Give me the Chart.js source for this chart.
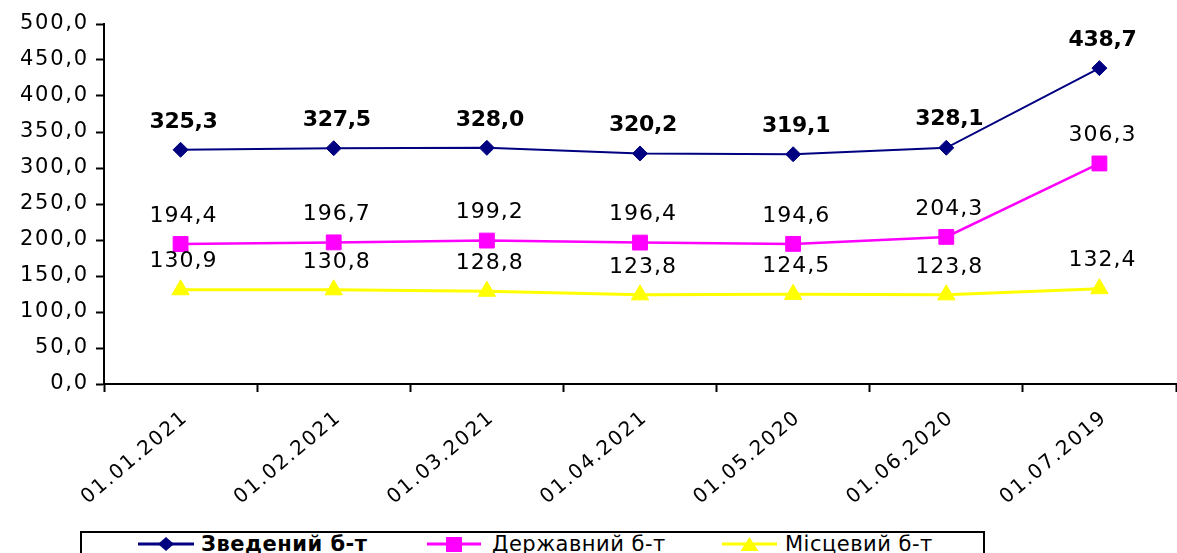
<!DOCTYPE html>
<html><head><meta charset="utf-8">
<script src="https://cdn.jsdelivr.net/npm/chart.js@4/dist/chart.umd.min.js"></script>
<style>
html,body{margin:0;padding:0;background:#fff;overflow:hidden;width:1177px;height:553px}
#wrap{position:relative;width:1177px;height:553px;overflow:hidden}
#c{position:absolute;left:0;top:0}
#legend{position:absolute;left:80px;top:531px;width:905px;height:40px;border:2px solid #000;box-sizing:border-box;background:#fff;font-family:"DejaVu Sans",sans-serif;font-size:21px;line-height:21px;color:#000;letter-spacing:0.5px}
.it{position:absolute;top:0;height:30px;white-space:nowrap}
.it svg{position:absolute;top:0}
.it span{position:absolute;top:1px}
</style></head>
<body><div id="wrap"><canvas id="c" width="1177" height="553"></canvas>
<div id="legend"></div></div>
<script>
const categories = ['01.01.2021','01.02.2021','01.03.2021','01.04.2021','01.05.2020','01.06.2020','01.07.2019'];
const seriesNames = ['Зведений б-т','Державний б-т','Місцевий б-т'];
const consolidated = [325.3,327.5,328.0,320.2,319.1,328.1,438.7];
const stateBudget = [194.4,196.7,199.2,196.4,194.6,204.3,306.3];
const localBudget = [130.9,130.8,128.8,123.8,124.5,123.8,132.4];
const yTickLabels = ['0,0','50,0','100,0','150,0','200,0','250,0','300,0','350,0','400,0','450,0','500,0'];
const colors = ['#000080','#FF00FF','#FFFF00'];
const labelBold = [true,false,false];

const fmt = v => v.toFixed(1).replace('.', ',');
const FONT = '"DejaVu Sans", sans-serif';

const spacingPlugin = {
  id:'spacing',
  beforeUpdate(chart){ chart.ctx.letterSpacing = '1.8px'; },
  beforeDraw(chart){ chart.ctx.letterSpacing = '1.8px'; }
};
const valueLabels = {
  id:'valueLabels',
  afterDatasetsDraw(chart){
    const ctx = chart.ctx;
    chart.data.datasets.forEach((ds,i)=>{
      const meta = chart.getDatasetMeta(i);
      ctx.save();
      ctx.font = (labelBold[i] ? 'bold ' : '') + '22px ' + FONT;
      ctx.letterSpacing = labelBold[i] ? '-0.3px' : '1px';
      ctx.fillStyle = '#000';
      ctx.textAlign = 'center';
      ctx.textBaseline = 'middle';
      meta.data.forEach((pt,j)=>{ ctx.fillText(fmt(ds.data[j]), pt.x + 3, pt.y - 28); });
      ctx.restore();
    });
  }
};

const mk = (label, data, color, style, radius, width) => ({
  label, data, borderColor: color, backgroundColor: color,
  pointBackgroundColor: color, pointBorderColor: color, pointBorderWidth: 1,
  pointStyle: style, pointRadius: radius, pointHoverRadius: radius,
  borderWidth: width, tension: 0, fill: false
});

new Chart(document.getElementById('c'), {
  type: 'line',
  data: {
    labels: categories,
    datasets: [
      mk(seriesNames[0], consolidated, colors[0], 'rectRot', 7.5, 2),
      mk(seriesNames[1], stateBudget, colors[1], 'rect', 10.5, 2.5),
      mk(seriesNames[2], localBudget, colors[2], 'triangle', 10, 3)
    ]
  },
  options: {
    responsive: false, animation: false, devicePixelRatio: 1,
    layout: { autoPadding: false, padding: { top: 24, right: 1, left: 0, bottom: 0 } },
    plugins: { legend: { display: false }, tooltip: { enabled: false } },
    scales: {
      x: {
        offset: true,
        border: { display: true, color: '#000', width: 2 },
        grid: { offset: true, drawOnChartArea: false, drawTicks: true, tickLength: 8, tickColor: '#000', tickWidth: 2 },
        ticks: { color: '#000', font: { family: FONT, size: 20 }, minRotation: 40, maxRotation: 40, padding: 14, labelOffset: 5 },
        afterFit(s){ s.height = 169; s.paddingLeft = 0; s.paddingRight = 0; }
      },
      y: {
        min: 0, max: 500,
        border: { display: true, color: '#000', width: 2 },
        grid: { drawOnChartArea: false, drawTicks: true, tickLength: 8, tickColor: '#000', tickWidth: 2 },
        ticks: { stepSize: 50, color: '#000', font: { family: FONT, size: 21 }, padding: 7,
                 callback: (v, i) => yTickLabels[i] },
        afterFit(s){ s.width = 104; }
      }
    }
  },
  plugins: [spacingPlugin, valueLabels]
});

// legend
const legendItems = [
  { lineX: 138, lineW: 56, textX: 201, marker: 'diamond' },
  { lineX: 427, lineW: 54, textX: 492, marker: 'square' },
  { lineX: 722, lineW: 55, textX: 785, marker: 'triangle' }
];
const lg = document.getElementById('legend');
legendItems.forEach((it, i) => {
  const d = document.createElement('div');
  d.className = 'it';
  d.style.left = '0px';
  const w = it.lineW, cx = w / 2, cy = 11;
  let m = '';
  if (it.marker === 'diamond') m = `<polygon points="${cx-8},${cy} ${cx},${cy-7} ${cx+8},${cy} ${cx},${cy+7}" fill="${colors[i]}"/>`;
  if (it.marker === 'square') m = `<rect x="${cx-8}" y="${cy-7}" width="16" height="15" fill="${colors[i]}"/>`;
  if (it.marker === 'triangle') m = `<polygon points="${cx-9},${cy+7} ${cx},${cy-7} ${cx+9},${cy+7}" fill="${colors[i]}"/>`;
  const svg = `<svg style="left:${it.lineX-82}px" width="${w}" height="24"><line x1="0" y1="${cy}" x2="${w}" y2="${cy}" stroke="${colors[i]}" stroke-width="3"/>${m}</svg>`;
  const span = `<span style="left:${it.textX-82}px;font-weight:${i===0?'bold':'normal'}">${seriesNames[i]}</span>`;
  d.innerHTML = svg + span;
  lg.appendChild(d);
});
</script>
</body></html>
